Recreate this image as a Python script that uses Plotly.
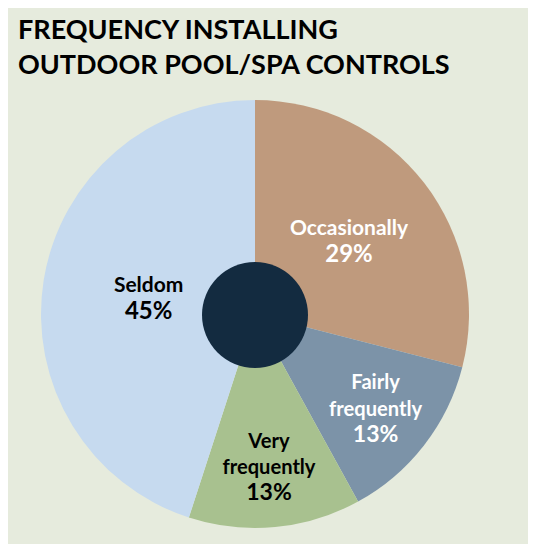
import plotly.graph_objects as go

labels = ["Occasionally", "Fairly<br>frequently", "Very<br>frequently", "Seldom"]
values = [29, 13, 13, 45]
colors = ["#bf9a7d", "#7c93a8", "#a8c18f", "#c6daef"]
text_colors = ["white", "white", "black", "black"]

fig = go.Figure()
fig.add_trace(go.Pie(
    labels=labels, values=values, sort=False, direction="clockwise", rotation=0,
    marker=dict(colors=colors, line=dict(color="#e6ebdd", width=0)),
    texttemplate="<b>%{label}</b><br><b><span style='font-size:24px'>%{value}%</span></b>",
    textposition="inside", insidetextorientation="horizontal",
    insidetextfont=dict(family="Lato", size=21, color=text_colors),
    hoverinfo="label+percent", showlegend=False,
    domain=dict(x=[33/536, 461/536], y=[1-520/544, 1-92/544]),
))
fig.add_trace(go.Pie(
    values=[1], marker=dict(colors=["#132b40"]), textinfo="none",
    hoverinfo="skip", showlegend=False, sort=False,
    domain=dict(x=[194/536, 300/536], y=[1-360/544, 1-254/544]),
))
fig.add_annotation(
    text="<b>FREQUENCY INSTALLING<br>OUTDOOR POOL/SPA CONTROLS</b>",
    x=8/536, y=1-2/544, xref="paper", yref="paper", xanchor="left", yanchor="top",
    align="left", showarrow=False, font=dict(family="Lato", size=27, color="black"),
)
fig.update_layout(
    width=536, height=544, margin=dict(l=0, r=0, t=0, b=0),
    paper_bgcolor="#e6ebdd", plot_bgcolor="#e6ebdd",
)
fig.write_html("out.html")
